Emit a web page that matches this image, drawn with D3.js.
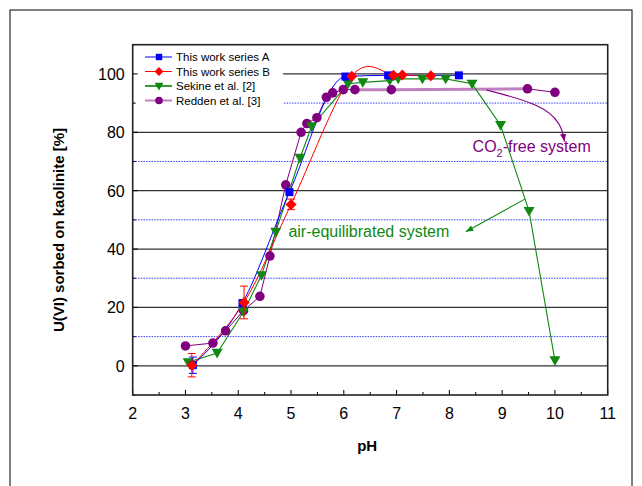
<!DOCTYPE html>
<html><head><meta charset="utf-8">
<script src="https://cdn.jsdelivr.net/npm/d3@7"></script>
<style>body{margin:0;background:#fff} text{font-family:"Liberation Sans",Arial,sans-serif}</style>
</head><body>
<svg id="c" width="642" height="486"></svg>
<script>
// ---- data ----
const xTicks = [2,3,4,5,6,7,8,9,10,11];
const yTicks = [0,20,40,60,80,100];
const yDotted = [10,30,50,70,90];
const seriesNames = ["This work series A","This work series B","Sekine et al. [2]","Redden et al. [3]"];

const aX = [3.14,4.08,4.97,6.03,6.84,8.18];
const aY = [0.2,21.5,59.5,99.1,99.5,99.5];
const aErr = [2.8,0,0,0,0,0];

const bX = [3.12,4.11,5.00,6.15,6.94,7.11,7.65];
const bY = [0.2,21.7,55.3,99.2,99.5,99.6,99.4];
const bErr = [4.0,5.6,1.8,0,0,0,0];

const sX = [3.05,3.60,4.10,4.44,4.71,5.17,5.39,6.08,6.36,6.87,7.03,7.49,7.93,8.43,8.97,9.51,10.00];
const sY = [1.2,4.4,18.5,31.0,45.9,71.2,82.0,96.6,97.1,97.7,98.3,98.3,98.3,96.6,82.4,53.0,1.8];

const rX = [3.00,3.52,3.76,4.10,4.41,4.60,4.90,5.19,5.30,5.49,5.67,5.79,5.99,6.21,6.90,9.48,10.00];
const rY = [6.8,7.8,12.0,18.9,23.8,37.6,62.0,80.0,83.0,85.0,92.0,93.5,94.6,94.6,94.6,94.9,93.7];

const co2ArrowX = [8.70,9.75,10.12,10.18];
const co2ArrowY = [94.5,89.5,83.0,76.8];
const airArrowX = [9.43,8.31];
const airArrowY = [57.1,45.9];
const labels = [
  {text:"air-equilibrated system", x:4.95, y:44.2},
  {text:"CO2-free system", x:8.44, y:73.2}
];

// ---- layout ----
const svg = d3.select("#c");
const L=132.7, R=607.7, T=44.7, B=395;
const x = d3.scaleLinear().domain([2,11]).range([L,R]);
const y = d3.scaleLinear().domain([-10,110]).range([B,T]);

const colA="#0000ff", colB="#ff0000", colS="#118811", colR="#800080", colRl="#c080c0";

svg.append("rect").attr("x",10).attr("y",10).attr("width",622).attr("height",490)
  .attr("fill","none").attr("stroke","#000").attr("stroke-width",1);

svg.append("defs").html(
 `<marker id="arP" viewBox="0 0 10 10" refX="10" refY="5" markerWidth="7" markerHeight="7" orient="auto"><path d="M0,1L10,5L0,9Z" fill="${colR}"/></marker>
  <marker id="arG" viewBox="0 0 10 10" refX="10" refY="5" markerWidth="7" markerHeight="7" orient="auto"><path d="M0,1L10,5L0,9Z" fill="${colS}"/></marker>`);

// grid
const g = svg.append("g");
g.selectAll(".gd").data(yDotted).join("line")
  .attr("x1",L).attr("x2",R).attr("y1",d=>y(d)).attr("y2",d=>y(d))
  .attr("stroke","#3a3aff").attr("stroke-width",1).attr("stroke-dasharray","1.5,1.2");
g.selectAll(".gs").data(yTicks).join("line")
  .attr("x1",L).attr("x2",R).attr("y1",d=>y(d)).attr("y2",d=>y(d))
  .attr("stroke","#333").attr("stroke-width",1.3);

// legend background (covers grid)
svg.append("rect").attr("x",L+1).attr("y",T+1).attr("width",282-L).attr("height",66).attr("fill","#fff");

// axes ticks
const xMinor = d3.range(2.5,11,1);
svg.append("g").selectAll("line").data(xTicks).join("line")
  .attr("x1",d=>x(d)).attr("x2",d=>x(d)).attr("y1",B).attr("y2",B-5).attr("stroke","#000");
svg.append("g").selectAll("line").data(xMinor).join("line")
  .attr("x1",d=>x(d)).attr("x2",d=>x(d)).attr("y1",B).attr("y2",B-3).attr("stroke","#000");
const yMinor = [-10,10,30,50,70,90,110];
svg.append("g").selectAll("line").data(yTicks).join("line")
  .attr("x1",L).attr("x2",L+5).attr("y1",d=>y(d)).attr("y2",d=>y(d)).attr("stroke","#000");
svg.append("g").selectAll("line").data(yMinor).join("line")
  .attr("x1",L).attr("x2",L+3).attr("y1",d=>y(d)).attr("y2",d=>y(d)).attr("stroke","#000");

svg.append("g").selectAll("text").data(xTicks).join("text")
  .attr("x",d=>x(d)).attr("y",B+24).attr("text-anchor","middle")
  .attr("font-size",16).text(d=>d);
svg.append("g").selectAll("text").data(yTicks).join("text")
  .attr("x",L-8).attr("y",d=>y(d)+6).attr("text-anchor","end")
  .attr("font-size",16).text(d=>d);

svg.append("text").attr("x",(L+R)/2-3).attr("y",451).attr("text-anchor","middle")
  .attr("font-size",15).attr("font-weight","bold").text("pH");
svg.append("text").attr("transform","translate(64,230) rotate(-90)").attr("text-anchor","middle")
  .attr("font-size",15).attr("font-weight","bold").text("U(VI) sorbed on kaolinite [%]");

// frame
svg.append("rect").attr("x",L).attr("y",T).attr("width",R-L).attr("height",B-T)
  .attr("fill","none").attr("stroke","#222").attr("stroke-width",1.6);

// markers
const tri = s => `M${-s/2},${-s*0.38}L${s/2},${-s*0.38}L0,${s*0.5}Z`;
const dia = s => `M0,${-s}L${s},0L0,${s}L${-s},0Z`;
const mk = {
  A: d3.symbol(d3.symbolSquare, 64)(),
  B: dia(5.5),
  S: tri(11),
  R: d3.symbol(d3.symbolCircle, 72)()
};

function zip(X,Y,E){return X.map((v,i)=>({x:v,y:Y[i],e:E?E[i]:0}));}
const dA=zip(aX,aY,aErr), dB=zip(bX,bY,bErr), dS=zip(sX,sY), dR=zip(rX,rY);

const line = c => d3.line().x(d=>x(d.x)).y(d=>y(d.y)).curve(c);

// Redden
const iSplit1 = rX.indexOf(6.21), iSplit2 = rX.indexOf(9.48);
svg.append("path").datum(dR.slice(iSplit1,iSplit2+1)).attr("d",line(d3.curveLinear))
  .attr("fill","none").attr("stroke",colRl).attr("stroke-width",3);
svg.append("path").datum(dR.slice(0,iSplit1+1)).attr("d",line(d3.curveLinear))
  .attr("fill","none").attr("stroke",colR).attr("stroke-width",1);
svg.append("path").datum(dR.slice(iSplit2)).attr("d",line(d3.curveLinear))
  .attr("fill","none").attr("stroke",colR).attr("stroke-width",1);

// Sekine
svg.append("path").datum(dS).attr("d",line(d3.curveLinear))
  .attr("fill","none").attr("stroke",colS).attr("stroke-width",1.1);
// A
svg.append("path").datum(dA).attr("d",line(d3.curveMonotoneX))
  .attr("fill","none").attr("stroke",colA).attr("stroke-width",1);
// B
svg.append("path").datum(dB).attr("d",line(d3.curveCardinal.tension(0)))
  .attr("fill","none").attr("stroke",colB).attr("stroke-width",1);

// error bars
function errs(data,col){
  const eg = svg.append("g").attr("stroke",col).attr("stroke-width",1);
  data.filter(d=>d.e>0).forEach(d=>{
    eg.append("line").attr("x1",x(d.x)).attr("x2",x(d.x)).attr("y1",y(d.y-d.e)).attr("y2",y(d.y+d.e));
    [d.y-d.e,d.y+d.e].forEach(v=>eg.append("line").attr("x1",x(d.x)-4).attr("x2",x(d.x)+4).attr("y1",y(v)).attr("y2",y(v)));
  });
}
function pts(data,path,col){
  svg.append("g").selectAll("path").data(data).join("path")
    .attr("transform",d=>`translate(${x(d.x)},${y(d.y)})`).attr("d",path).attr("fill",col);
}
pts(dR,mk.R,colR);
pts(dS,mk.S,colS);
errs(dA,colA); pts(dA,mk.A,colA);
errs(dB,colB); pts(dB,mk.B,colB);

// annotations
svg.append("path").datum(zip(co2ArrowX,co2ArrowY)).attr("d",line(d3.curveBasis))
  .attr("fill","none").attr("stroke",colR).attr("stroke-width",1.1).attr("marker-end","url(#arP)");
svg.append("path").datum(zip(airArrowX,airArrowY)).attr("d",line(d3.curveLinear))
  .attr("fill","none").attr("stroke",colS).attr("stroke-width",1.1).attr("marker-end","url(#arG)");

svg.append("text").attr("x",x(labels[0].x)).attr("y",y(labels[0].y))
  .attr("font-size",16).attr("fill",colS).text(labels[0].text);
const t2 = svg.append("text").attr("x",x(labels[1].x)).attr("y",y(labels[1].y))
  .attr("font-size",16).attr("fill",colR);
t2.append("tspan").text("CO");
t2.append("tspan").attr("font-size",11).attr("dy",5).text("2");
t2.append("tspan").attr("dy",-5).text("-free system");

// legend
const legCols=[colA,colB,colS,colR], legMk=[mk.A,mk.B,mk.S,mk.R];
const lg = svg.append("g");
seriesNames.forEach((n,i)=>{
  const yy = 57 + i*14.5;
  lg.append("line").attr("x1",145).attr("x2",172).attr("y1",yy).attr("y2",yy)
    .attr("stroke", i===3?colRl:(i===2?"#3a9a3a":legCols[i])).attr("stroke-width", i>=2?2:1);
  lg.append("path").attr("transform",`translate(159,${yy}) scale(0.8)`).attr("d",legMk[i]).attr("fill",legCols[i]);
  lg.append("text").attr("x",176).attr("y",yy+4).attr("font-size",11.5).attr("fill","#000").text(n);
});
</script>
</body></html>
